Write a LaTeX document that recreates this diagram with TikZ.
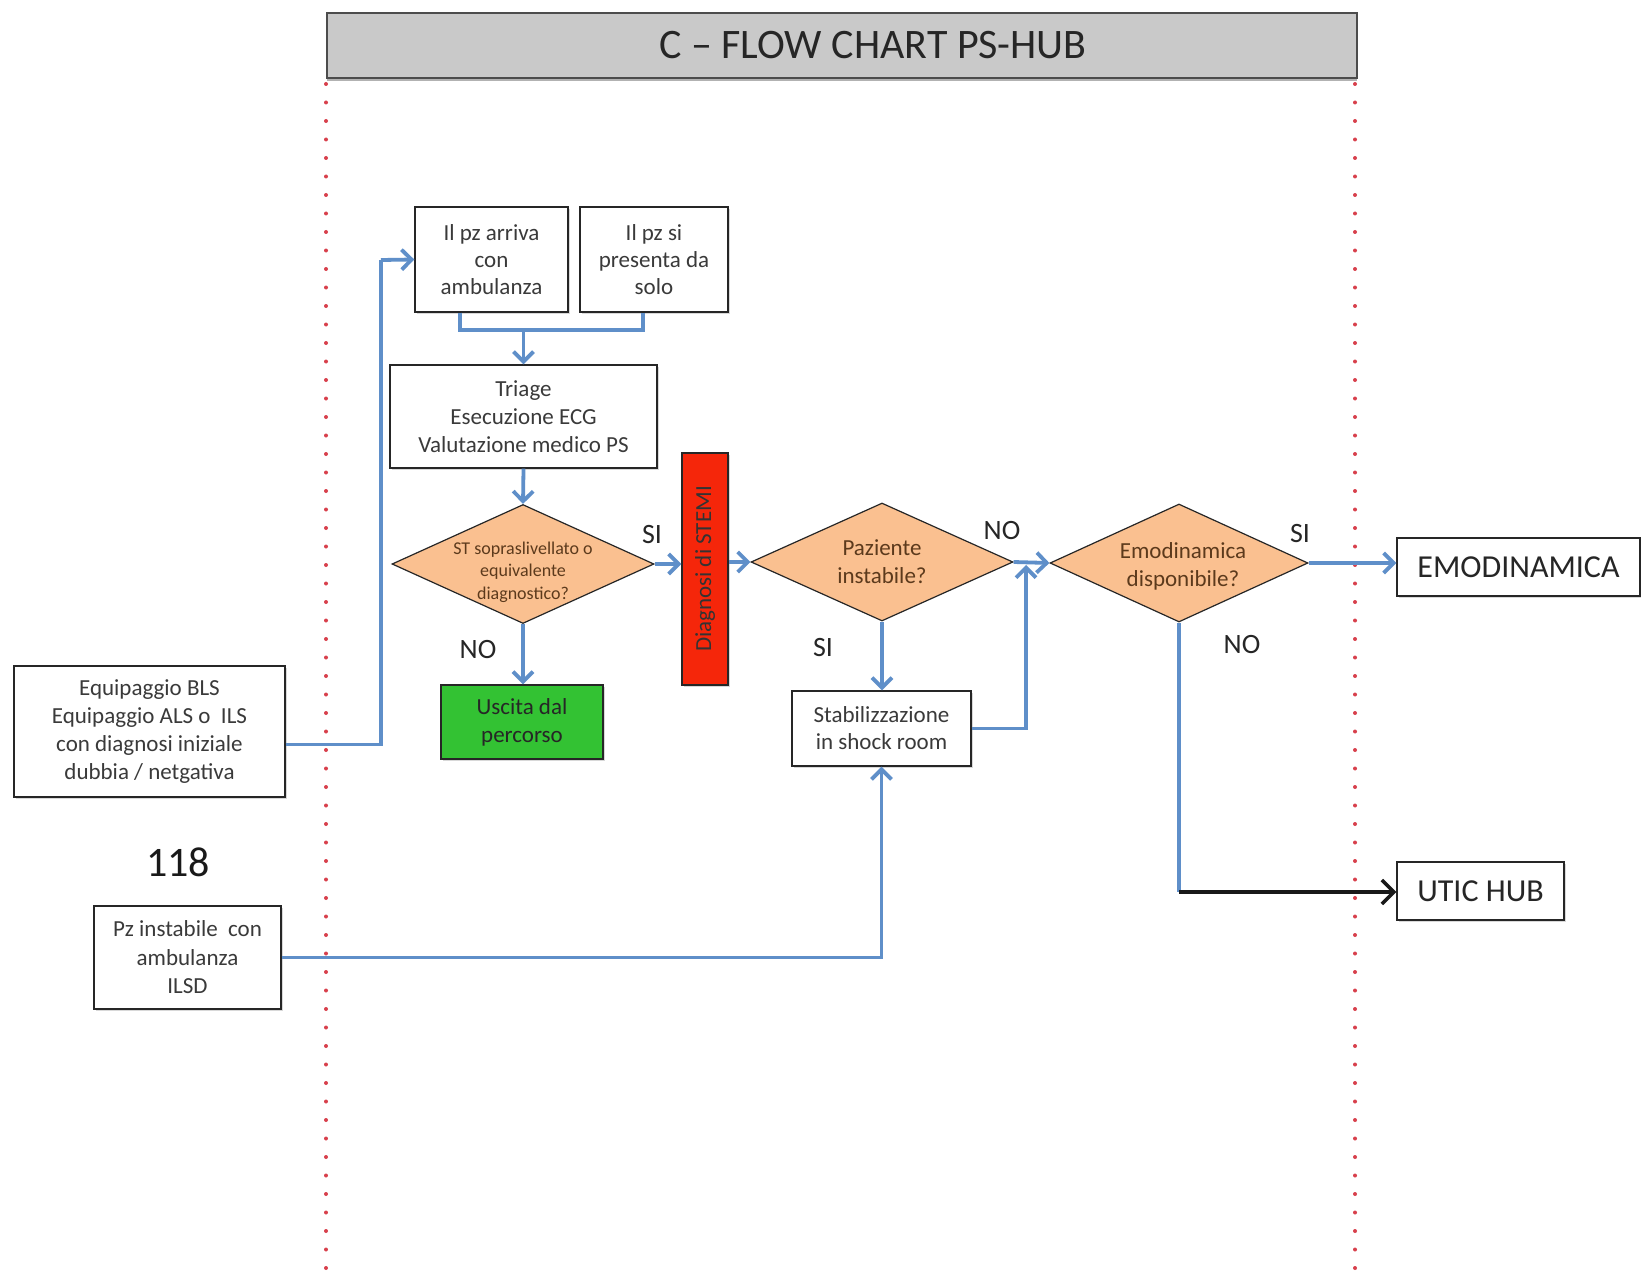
\documentclass[tikz,border=0pt]{standalone}
\usepackage{fontspec}
\setmainfont{Carlito}
\usetikzlibrary{shapes.geometric,arrows.meta,shadows}
\definecolor{connc}{HTML}{5F8FC9}
\definecolor{peach}{HTML}{FAC090}
\definecolor{stemired}{HTML}{F5260A}
\definecolor{exitgreen}{HTML}{33C233}
\definecolor{dotred}{HTML}{D8404C}
\definecolor{boxtxt}{HTML}{3A3A3A}
\definecolor{diamtxt}{HTML}{5C3A1C}
\definecolor{titlegrey}{HTML}{C9C9C9}
\newcommand\myfs[2]{\fontsize{#1}{#2}\selectfont}
\begin{document}
\begin{tikzpicture}[x=1pt,y=-1pt,
  box/.style={draw=black!85,line width=1.4pt,fill=white,text=boxtxt,align=center,inner sep=0pt,
    font=\myfs{23}{27},drop shadow={shadow xshift=1.5pt,shadow yshift=-2pt,opacity=0.3}},
  diam/.style={shape=diamond,draw=black!85,line width=1.2pt,fill=peach,inner sep=0pt},
  dtext/.style={text=diamtxt,align=center,font=\myfs{23}{28}},
  lab/.style={text=black!85,font=\myfs{28}{30},inner sep=0pt},
  bigbox/.style={box,text=black!85,font=\myfs{32}{36}},
  connarrow/.style={draw=connc,line width=3.8pt,-{Straight Barb[length=10pt,width=20pt]}},
  connline/.style={draw=connc,line width=3.8pt},
  dotline/.style={draw=dotred,line width=4pt,dash pattern=on 0pt off 18.5pt,line cap=round},
]
\useasboundingbox (0,0) rectangle (1641,1276);
\fill[white] (0,0) rectangle (1641,1276);

% title bar and swim-lane separators
\node[draw=black!70,line width=1.4pt,fill=titlegrey,minimum width=1030pt,minimum height=65pt,
  drop shadow={shadow xshift=0pt,shadow yshift=-3.5pt,opacity=0.6},
  label={[xshift=31pt,font=\myfs{42}{44},text=black!85]center:C – FLOW CHART PS-HUB}] (title) at (842,45.5) {};
\draw[dotline] (326,84) -- (326,1272);
\draw[dotline] (1355,84) -- (1355,1272);

% boxes
\node[box,minimum width=153pt,minimum height=105pt] (b1) at (491.5,259.5) {Il pz arriva\\con\\ambulanza};
\node[box,minimum width=148pt,minimum height=105pt] (b2) at (654,259.5) {Il pz si\\presenta da\\solo};
\node[box,minimum width=267pt,minimum height=103pt,font=\myfs{23}{28}] (triage) at (523.5,416.5) {Triage\\Esecuzione ECG\\Valutazione medico PS};
\node[diam,minimum width=262pt,minimum height=119pt,
  label={[yshift=-8pt,text=diamtxt,align=center,font=\myfs{18}{22.5}]center:ST sopraslivellato o\\equivalente\\diagnostico?}] (d1) at (523,564) {};
\node[box,fill=exitgreen,text=black!85,minimum width=162pt,minimum height=74pt,font=\myfs{23}{28}] (exit) at (522,722) {Uscita dal\\percorso};
\node[box,fill=stemired,minimum width=46pt,minimum height=232pt,
  label={[rotate=90,text=black!80,font=\myfs{23}{26}]center:Diagnosi di STEMI}] (stemi) at (705,569) {};
\node[diam,minimum width=262pt,minimum height=118pt,
  label={[dtext]center:Paziente\\instabile?}] (d2) at (882,562) {};
\node[box,minimum width=179pt,minimum height=75pt] (stab) at (881.5,728.5) {Stabilizzazione\\in shock room};
\node[diam,minimum width=258pt,minimum height=118pt,
  label={[dtext,xshift=4pt,yshift=-3pt]center:Emodinamica\\disponibile?}] (d3) at (1179,563) {};
\node[bigbox,minimum width=243pt,minimum height=58pt] (emo) at (1518.5,567) {EMODINAMICA};
\node[bigbox,minimum width=167pt,minimum height=58pt] (utic) at (1480.5,891) {UTIC HUB};
\node[box,minimum width=271pt,minimum height=131pt,font=\myfs{23}{28}] (equip) at (149.5,731.5) {Equipaggio BLS\\Equipaggio ALS o \ ILS\\con diagnosi iniziale\\dubbia / netgativa};
\node[box,minimum width=187pt,minimum height=103pt,font=\myfs{23}{28.5}] (pz) at (187.5,957.5) {Pz instabile \ con\\ambulanza\\ILSD};
\node[text=black!90,font=\myfs{42}{44}] (n118) at (178,862) {118};

% SI / NO labels
\node[lab] (si1) at (652,535) {SI};
\node[lab] (no1) at (478,650) {NO};
\node[lab] (no2) at (1002,531) {NO};
\node[lab] (si2) at (823,648) {SI};
\node[lab] (si3) at (1300,534) {SI};
\node[lab] (no3) at (1242,645) {NO};

% junction coordinates
\coordinate (jl) at (381,260);
\coordinate (jm) at (523.5,330);
\coordinate (jn) at (1026,565);
\coordinate (ju) at (1179,892);

% connectors
\draw[connline] ([yshift=-13pt]equip.east) -| (jl);
\draw[connarrow] (jl) -- (b1.west);
\draw[connline] ([xshift=-31.5pt]b1.south) -- ([xshift=-31.5pt]b1.south |- jm) -| ([xshift=-11pt]b2.south);
\draw[connarrow] (jm) -- (triage.north);
\draw[connarrow] (triage.south) -- (d1.north);
\draw[connarrow] (d1.east) -- (stemi.west |- d1.east);
\draw[connarrow] (d1.south) -- (exit.north -| d1.south);
\draw[connarrow] (stemi.east |- d2.west) -- (d2.west);
\draw[connarrow] (d2.south) -- (stab.north -| d2.south);
\draw[connarrow] (d2.east) -- (d3.west);
\draw[connarrow] (stab.east) -| (jn);
\draw[connarrow] (pz.east) -| (stab.south);
\draw[connarrow] (d3.east) -- (emo.west |- d3.east);
\draw[connline] (d3.south) -- (ju);
\draw[draw=black!90,line width=3.5pt,-{Straight Barb[length=12pt,width=24pt]}] (ju) -- (utic.west |- ju);
\end{tikzpicture}
\end{document}
